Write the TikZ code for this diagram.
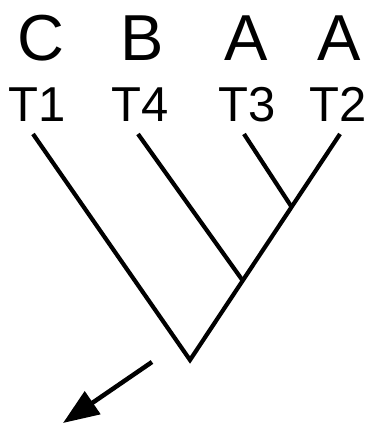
\documentclass[tikz,border=0pt]{standalone}
\usepackage{fontspec}
\setmainfont{Liberation Sans}
\usetikzlibrary{arrows.meta}
\begin{document}
\begin{tikzpicture}[x=1pt,y=-1pt,
  big/.style={font=\fontsize{65}{65}\selectfont, anchor=base, inner sep=0pt},
  tip/.style={font=\fontsize{49}{49}\selectfont, anchor=base, inner sep=0pt},
  branch/.style={line width=4.2pt}]
\useasboundingbox (0,0) rectangle (373,427);
\node[big] (c) at (41,61) {C};
\node[big] (b) at (142,61) {B};
\node[big] (a1) at (246,61) {A};
\node[big] (a2) at (339,61) {A};
\node[tip] (t1) at (37,122) {T1};
\node[tip] (t4) at (140,122) {T4};
\node[tip] (t3) at (247,122) {T3};
\node[tip] (t2) at (338,122) {T2};
\coordinate (l1) at (33,134);
\coordinate (l4) at (138,134);
\coordinate (l3) at (244,134);
\coordinate (l2) at (340,134);
\coordinate (root) at (190,360);
\coordinate (n1) at (243,281);
\coordinate (n2) at (291,206);
\draw[branch] (l1) -- (root) -- (l2);
\draw[branch] (l4) -- (n1);
\draw[branch] (l3) -- (n2);
\coordinate (as) at (152,362);
\coordinate (ae) at (63,423);
\draw[line width=4.5pt,-{Triangle[length=36pt,width=27pt]}] (as) -- (ae);
\end{tikzpicture}
\end{document}
